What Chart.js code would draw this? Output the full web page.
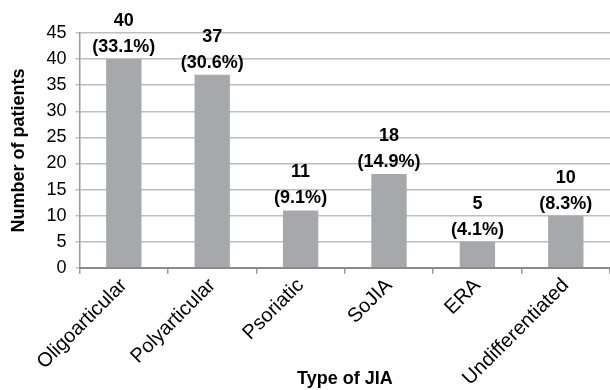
<!DOCTYPE html>
<html>
<head>
<meta charset="utf-8">
<script src="https://cdn.jsdelivr.net/npm/chart.js@4/dist/chart.umd.min.js"></script>
<style>
  html, body { margin: 0; padding: 0; background: #fff; }
  #wrap { width: 610px; height: 390px; }
</style>
</head>
<body>
<div id="wrap"><canvas id="jiaChart"></canvas></div>
<script>
const categories = ["Oligoarticular", "Polyarticular", "Psoriatic", "SoJIA", "ERA", "Undifferentiated"];
const patients = [40, 37, 11, 18, 5, 10];
const percentLabels = ["(33.1%)", "(30.6%)", "(9.1%)", "(14.9%)", "(4.1%)", "(8.3%)"];
const yTicks = [0, 5, 10, 15, 20, 25, 30, 35, 40, 45];

const FONT = "'Liberation Sans', Arial, sans-serif";

// value + percentage above each bar
const barLabels = {
  id: "barLabels",
  afterDatasetsDraw(chart) {
    const ctx = chart.ctx;
    const meta = chart.getDatasetMeta(0);
    ctx.save();
    ctx.fillStyle = "#000";
    ctx.font = "bold 18px " + FONT;
    ctx.textAlign = "center";
    ctx.textBaseline = "alphabetic";
    meta.data.forEach((bar, i) => {
      ctx.fillText(percentLabels[i], bar.x, bar.y - 7);
      ctx.fillText(String(patients[i]), bar.x, bar.y - 33);
    });
    ctx.restore();
  },
};

new Chart(document.getElementById("jiaChart").getContext("2d"), {
  type: "bar",
  data: {
    labels: categories,
    datasets: [
      {
        data: patients,
        backgroundColor: "#a7a8ab",
        barPercentage: 0.4,
        categoryPercentage: 1,
      },
    ],
  },
  options: {
    responsive: true,
    maintainAspectRatio: false,
    animation: false,
    layout: { padding: { top: 33, right: 0, left: 8, bottom: 0 } },
    plugins: {
      legend: { display: false },
      tooltip: { enabled: false },
    },
    scales: {
      y: {
        min: 0,
        max: 45,
        afterBuildTicks: (axis) => {
          axis.ticks = yTicks.map((v) => ({ value: v }));
        },
        ticks: {
          color: "#000",
          font: { size: 18, family: FONT },
          padding: 9,
        },
        grid: { color: "#bdbdbd", lineWidth: 1.5, tickLength: 4 },
        border: { color: "#9a9a9a", width: 1.5 },
        title: {
          display: true,
          text: "Number of patients",
          color: "#000",
          font: { size: 18, weight: "bold", family: FONT },
          padding: { top: 0, bottom: 8 },
        },
      },
      x: {
        ticks: {
          color: "#000",
          font: { size: 20, family: FONT },
          minRotation: 45,
          maxRotation: 45,
          autoSkip: false,
          padding: 0,
        },
        grid: { drawOnChartArea: false, color: "#9a9a9a", lineWidth: 1.5, tickLength: 6 },
        border: { color: "#8a8a8a", width: 2 },
        title: {
          display: true,
          text: "Type of JIA",
          color: "#000",
          font: { size: 18, weight: "bold", family: FONT },
          padding: { top: -22, bottom: 0 },
        },
      },
    },
  },
  plugins: [barLabels],
});
</script>
</body>
</html>
